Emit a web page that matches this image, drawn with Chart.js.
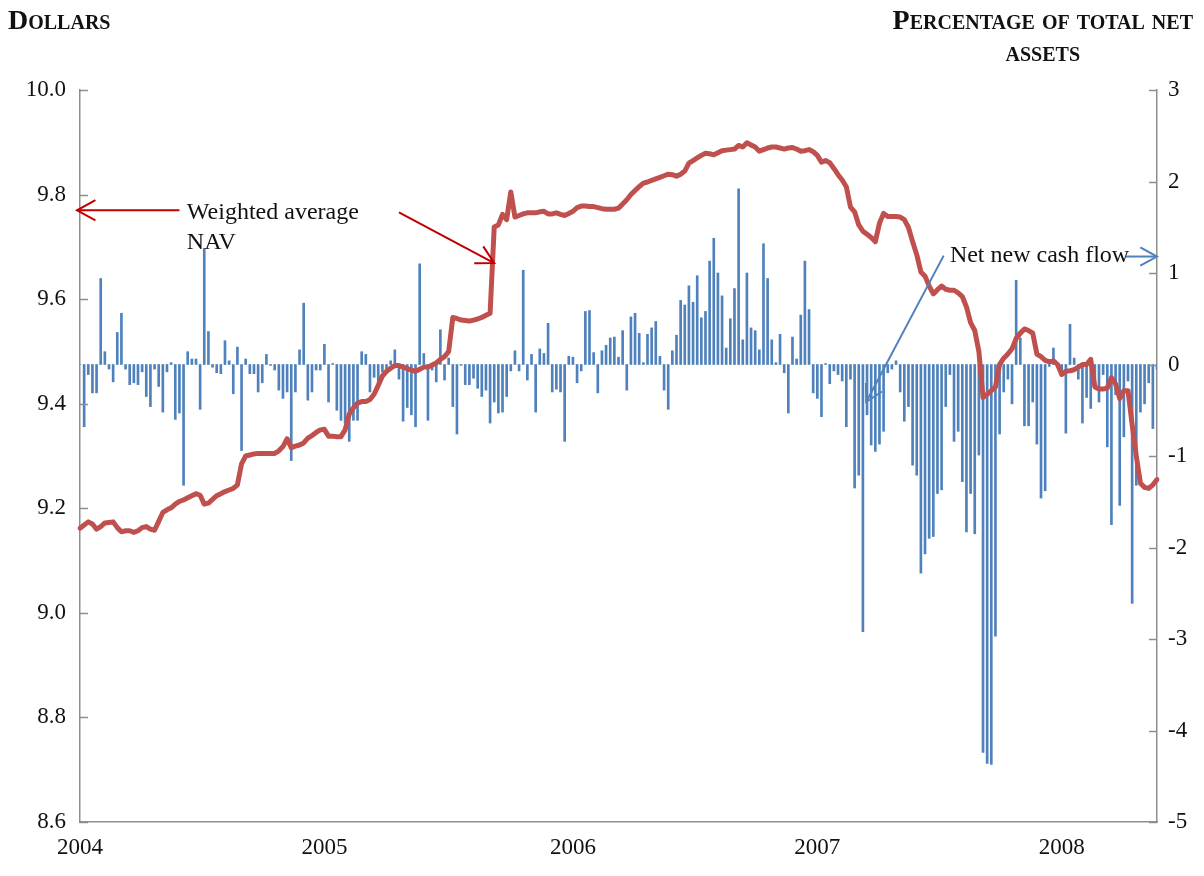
<!DOCTYPE html>
<html>
<head>
<meta charset="utf-8">
<script src="https://cdn.jsdelivr.net/npm/chart.js@4.4.1/dist/chart.umd.min.js"></script>
<style>
  body { margin: 0; background: #fff; }
  #wrap { position: relative; width: 1204px; height: 876px; }
  .axtitle { position: absolute; font: bold 28px "Liberation Serif", serif; font-variant: small-caps; color: #111; line-height: 32px; }
</style>
</head>
<body>
<div id="wrap">
  <canvas id="navChart" width="1204" height="876"></canvas>
  <div class="axtitle" style="left:8px; top:4px;">Dollars</div>
  <div class="axtitle" style="right:11px; top:4px; text-align:center;">Percentage of total net<br>assets</div>
</div>
<script>
// Fundo: NAV médio ponderado (linha) e fluxo líquido de caixa (barras)
const yearLabels = ['2004', '2005', '2006', '2007', '2008'];
const yearStart = [0, 59, 119, 178, 237];

// % dos ativos líquidos totais, por período
const cashFlow = [
  0, -0.68, -0.11, -0.31, -0.31, 0.94, 0.14, -0.05, -0.19, 0.35,
  0.56, -0.05, -0.22, -0.20, -0.22, -0.08, -0.35, -0.46, -0.05, -0.24,
  -0.52, -0.08, 0.02, -0.60, -0.53, -1.32, 0.14, 0.06, 0.06, -0.49,
  1.27, 0.36, -0.03, -0.09, -0.10, 0.26, 0.04, -0.32, 0.19, -0.94,
  0.06, -0.10, -0.10, -0.30, -0.20, 0.11, -0.01, -0.06, -0.28, -0.37,
  -0.30, -1.05, -0.30, 0.16, 0.67, -0.39, -0.30, -0.06, -0.06, 0.22,
  -0.41, 0.01, -0.50, -0.61, -0.64, -0.84, -0.61, -0.61, 0.14, 0.11,
  -0.30, -0.14, -0.19, -0.08, -0.08, 0.04, 0.16, -0.16, -0.62, -0.47,
  -0.55, -0.68, 1.10, 0.12, -0.61, -0.06, -0.19, 0.38, -0.17, 0.07,
  -0.46, -0.76, -0.01, -0.22, -0.22, -0.15, -0.26, -0.35, -0.28, -0.64,
  -0.41, -0.53, -0.52, -0.35, -0.07, 0.15, -0.07, 1.03, -0.17, 0.11,
  -0.52, 0.17, 0.12, 0.45, -0.30, -0.27, -0.30, -0.84, 0.09, 0.08,
  -0.20, -0.07, 0.58, 0.59, 0.13, -0.31, 0.15, 0.21, 0.29, 0.30,
  0.08, 0.37, -0.28, 0.52, 0.56, 0.34, 0.02, 0.33, 0.40, 0.47,
  0.09, -0.28, -0.49, 0.15, 0.32, 0.70, 0.65, 0.86, 0.68, 0.97,
  0.51, 0.58, 1.13, 1.38, 1.00, 0.75, 0.18, 0.50, 0.83, 1.92,
  0.27, 1.00, 0.40, 0.37, 0.16, 1.32, 0.94, 0.27, 0.02, 0.33,
  -0.09, -0.53, 0.30, 0.06, 0.54, 1.13, 0.60, -0.31, -0.37, -0.57,
  0.01, -0.21, -0.07, -0.11, -0.18, -0.68, -0.16, -1.35, -1.21, -2.92,
  -0.55, -0.88, -0.95, -0.87, -0.73, -0.09, -0.05, 0.04, -0.30, -0.62,
  -0.46, -1.10, -1.21, -2.28, -2.07, -1.90, -1.88, -1.41, -1.37, -0.46,
  -0.11, -0.84, -0.73, -1.28, -1.83, -1.41, -1.85, -0.99, -4.24, -4.36,
  -4.37, -2.97, -0.76, -0.30, -0.16, -0.43, 0.92, 0.29, -0.67, -0.67,
  -0.41, -0.87, -1.46, -1.38, -0.02, 0.18, -0.03, -0.07, -0.75, 0.44,
  0.07, -0.16, -0.64, -0.36, -0.48, -0.16, -0.41, -0.11, -0.90, -1.75,
  -0.33, -1.54, -0.79, -0.18, -2.61, -1.32, -0.52, -0.43, -0.20, -0.70,
  -0.05
];

// NAV médio ponderado, em dólares
const nav = [
  9.162, 9.168, 9.174, 9.170, 9.160, 9.165, 9.172, 9.173, 9.174, 9.163,
  9.155, 9.157, 9.157, 9.154, 9.157, 9.163, 9.165, 9.160, 9.158, 9.175,
  9.192, 9.197, 9.201, 9.208, 9.213, 9.216, 9.220, 9.224, 9.228, 9.225,
  9.208, 9.210, 9.217, 9.224, 9.228, 9.232, 9.235, 9.238, 9.245, 9.285,
  9.300, 9.302, 9.304, 9.305, 9.305, 9.305, 9.305, 9.305, 9.310, 9.318,
  9.333, 9.316, 9.319, 9.321, 9.325, 9.334, 9.339, 9.345, 9.350, 9.351,
  9.338, 9.338, 9.337, 9.337, 9.350, 9.380, 9.392, 9.401, 9.404, 9.404,
  9.408, 9.418, 9.435, 9.453, 9.462, 9.468, 9.473, 9.473, 9.470, 9.467,
  9.464, 9.462, 9.466, 9.470, 9.470, 9.474, 9.478, 9.485, 9.490, 9.500,
  9.565, 9.563, 9.560, 9.559, 9.558, 9.560, 9.562, 9.565, 9.569, 9.573,
  9.738, 9.742, 9.762, 9.752, 9.805, 9.757, 9.760, 9.763, 9.765, 9.765,
  9.765, 9.767, 9.768, 9.763, 9.763, 9.765, 9.762, 9.760, 9.764, 9.768,
  9.775, 9.778, 9.778, 9.777, 9.777, 9.775, 9.773, 9.772, 9.772, 9.772,
  9.774, 9.782, 9.790, 9.800, 9.808, 9.815, 9.822, 9.824, 9.827, 9.830,
  9.833, 9.836, 9.839, 9.838, 9.835, 9.839, 9.845, 9.860, 9.865, 9.870,
  9.875, 9.879, 9.878, 9.876, 9.880, 9.884, 9.885, 9.886, 9.887, 9.894,
  9.891, 9.899, 9.895, 9.891, 9.883, 9.886, 9.889, 9.891, 9.891, 9.889,
  9.887, 9.889, 9.890, 9.887, 9.883, 9.884, 9.886, 9.882, 9.875, 9.862,
  9.865, 9.861, 9.850, 9.838, 9.828, 9.815, 9.776, 9.767, 9.742, 9.730,
  9.724, 9.718, 9.710, 9.745, 9.764, 9.758, 9.758, 9.758, 9.757, 9.752,
  9.737, 9.710, 9.685, 9.652, 9.644, 9.625, 9.610, 9.618, 9.625, 9.619,
  9.617, 9.617, 9.612, 9.605, 9.585, 9.555, 9.540, 9.500, 9.412, 9.418,
  9.425, 9.432, 9.475, 9.487, 9.495, 9.505, 9.525, 9.535, 9.543, 9.540,
  9.535, 9.495, 9.490, 9.483, 9.480, 9.482, 9.475, 9.456, 9.462, 9.463,
  9.465, 9.470, 9.475, 9.475, 9.485, 9.432, 9.428, 9.428, 9.430, 9.450,
  9.438, 9.410, 9.425, 9.425, 9.360, 9.300, 9.248, 9.240, 9.238, 9.245,
  9.255
];

const labels = cashFlow.map((_, i) => {
  const j = yearStart.indexOf(i);
  return j >= 0 ? yearLabels[j] : '';
});

const FONT = '"Liberation Serif", serif';
const AXIS = '#8e8e8e';

function arrow(ctx, x1, y1, x2, y2, color, head) {
  const a = Math.atan2(y2 - y1, x2 - x1);
  ctx.save();
  ctx.strokeStyle = color;
  ctx.lineWidth = 2;
  ctx.beginPath();
  ctx.moveTo(x1, y1);
  ctx.lineTo(x2, y2);
  ctx.stroke();
  ctx.beginPath();
  ctx.moveTo(x2 - head * Math.cos(a - 0.5), y2 - head * Math.sin(a - 0.5));
  ctx.lineTo(x2, y2);
  ctx.lineTo(x2 - head * Math.cos(a + 0.5), y2 - head * Math.sin(a + 0.5));
  ctx.stroke();
  ctx.restore();
}

// marcas dos eixos para dentro + anotações
const extras = {
  id: 'extras',
  afterDatasetsDraw(chart) {
    const { ctx, chartArea: ca, scales: { x, yL, yR } } = chart;
    ctx.save();
    ctx.strokeStyle = AXIS;
    ctx.lineWidth = 1.5;
    yL.ticks.forEach(t => {
      const py = Math.round(yL.getPixelForValue(t.value)) + 0.5;
      ctx.beginPath(); ctx.moveTo(ca.left, py); ctx.lineTo(ca.left + 8, py); ctx.stroke();
    });
    yR.ticks.forEach(t => {
      const py = Math.round(yR.getPixelForValue(t.value)) + 0.5;
      ctx.beginPath(); ctx.moveTo(ca.right - 8, py); ctx.lineTo(ca.right, py); ctx.stroke();
    });

    const red = '#C00000', blue = '#4F81BD';
    arrow(ctx, x.getPixelForValue(24), yL.getPixelForValue(9.77), ca.left - 3, yL.getPixelForValue(9.77), red, 21);
    arrow(ctx, x.getPixelForValue(77), yL.getPixelForValue(9.766), x.getPixelForValue(100), yL.getPixelForValue(9.669), red, 20);
    arrow(ctx, x.getPixelForValue(208.5), yR.getPixelForValue(1.19), x.getPixelForValue(189.8), yR.getPixelForValue(-0.41), blue, 19);

    ctx.fillStyle = '#111';
    ctx.font = '24px ' + FONT;
    ctx.textBaseline = 'middle';
    ctx.textAlign = 'left';
    ctx.fillText('Weighted average', x.getPixelForValue(25.8), yL.getPixelForValue(9.765));
    ctx.fillText('NAV', x.getPixelForValue(25.8), yL.getPixelForValue(9.707));
    ctx.fillText('Net new cash flow', x.getPixelForValue(210), yR.getPixelForValue(1.19));
    arrow(ctx, x.getPixelForValue(252.5), yR.getPixelForValue(1.18), ca.right, yR.getPixelForValue(1.18), blue, 19);
    ctx.restore();
  }
};

const tickFont = { family: FONT, size: 23 };

new Chart(document.getElementById('navChart'), {
  type: 'bar',
  data: {
    labels: labels,
    datasets: [
      {
        type: 'line',
        label: 'Weighted average NAV',
        data: nav,
        yAxisID: 'yL',
        borderColor: '#C0504D',
        borderWidth: 5,
        borderJoinStyle: 'round',
        borderCapStyle: 'round',
        pointRadius: 0,
        tension: 0,
        order: 1
      },
      {
        type: 'bar',
        label: 'Net new cash flow',
        data: cashFlow,
        yAxisID: 'yR',
        backgroundColor: '#4F81BD',
        barThickness: 2,
        order: 2
      }
    ]
  },
  options: {
    responsive: false,
    animation: false,
    layout: { padding: { top: 90, left: 0, right: 0, bottom: 0 } },
    plugins: { legend: { display: false }, tooltip: { enabled: false } },
    scales: {
      x: {
        offset: false,
        grid: { display: false, drawTicks: false },
        border: { color: AXIS, width: 1.5 },
        ticks: {
          autoSkip: false, maxRotation: 0, padding: 12, color: '#111', font: tickFont,
          callback: (v, i) => labels[i]
        },
        afterFit: s => { s.height = 54; }
      },
      yL: {
        position: 'left',
        min: 8.6, max: 10.0,
        grid: { display: false, drawTicks: false },
        border: { color: AXIS, width: 1.5 },
        ticks: { stepSize: 0.2, padding: 14, color: '#111', font: tickFont, callback: v => v.toFixed(1) },
        afterFit: s => { s.width = 80; }
      },
      yR: {
        position: 'right',
        min: -5, max: 3,
        grid: { display: false, drawTicks: false },
        border: { color: AXIS, width: 1.5 },
        ticks: { stepSize: 1, padding: 11, color: '#111', font: tickFont },
        afterFit: s => { s.width = 47; }
      }
    }
  },
  plugins: [extras]
});
</script>
</body>
</html>
